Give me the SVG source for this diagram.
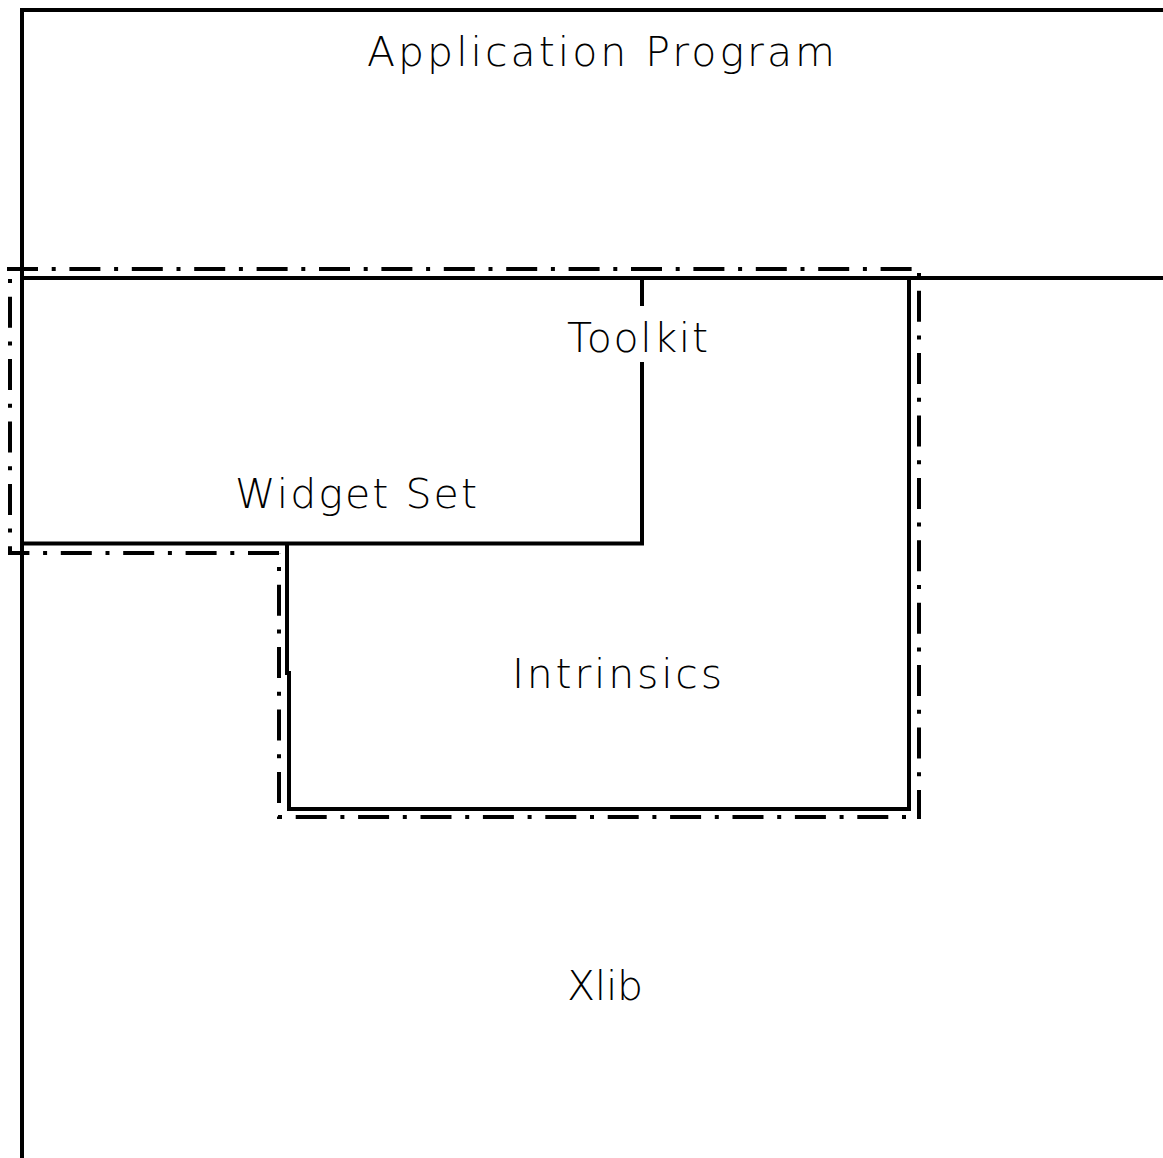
<svg xmlns="http://www.w3.org/2000/svg" width="1163" height="1158" viewBox="0 0 1163 1158">
<style>
.solid{stroke:#000;stroke-width:4;fill:none;stroke-linecap:butt}
.dd{stroke:#000;stroke-width:4;fill:none;stroke-dasharray:31 13.7 4 13.7;stroke-linecap:butt}
.lbl{font-family:"DejaVu Sans","Liberation Sans",sans-serif;font-weight:200;font-size:41px;fill:#000}
</style>
<rect width="1163" height="1158" fill="#fff"/>
<g id="connectors">
<line class="dd" x1="7" y1="269" x2="921" y2="269"/>
<line class="dd" x1="919" y1="269" x2="919" y2="819" stroke-dashoffset="40.7"/>
<line class="dd" x1="278" y1="817" x2="921" y2="817" stroke-dashoffset="44.7"/>
<line class="dd" x1="279" y1="553" x2="279" y2="819" stroke-dashoffset="30.7"/>
<line class="dd" x1="279" y1="553" x2="8" y2="553"/>
<line class="dd" x1="10" y1="269" x2="10" y2="555" stroke-dashoffset="34.7"/>
</g>
<g id="app-program">
<path class="solid" d="M22 1158 V10 H1163"/>
<text class="lbl" x="367" y="66" textLength="468" lengthAdjust="spacing">Application Program</text>
</g>
<g id="xlib">
<line class="solid" x1="20" y1="278" x2="1163" y2="278"/>
<text class="lbl" x="567" y="1000" textLength="76" lengthAdjust="spacing">Xlib</text>
</g>
<g id="widget-set">
<line class="solid" x1="20" y1="543.5" x2="644" y2="543.5"/>
<text class="lbl" x="235" y="508" textLength="242" lengthAdjust="spacing">Widget Set</text>
</g>
<g id="toolkit">
<line class="solid" x1="642" y1="278" x2="642" y2="306"/>
<line class="solid" x1="642" y1="362" x2="642" y2="545"/>
<text class="lbl" x="567" y="352" textLength="141" lengthAdjust="spacing">Toolkit</text>
</g>
<g id="intrinsics">
<path class="solid" d="M287 543.5 V673 H289 V809 H909 V278"/>
<text class="lbl" x="512" y="688" textLength="210" lengthAdjust="spacing">Intrinsics</text>
</g>
</svg>
